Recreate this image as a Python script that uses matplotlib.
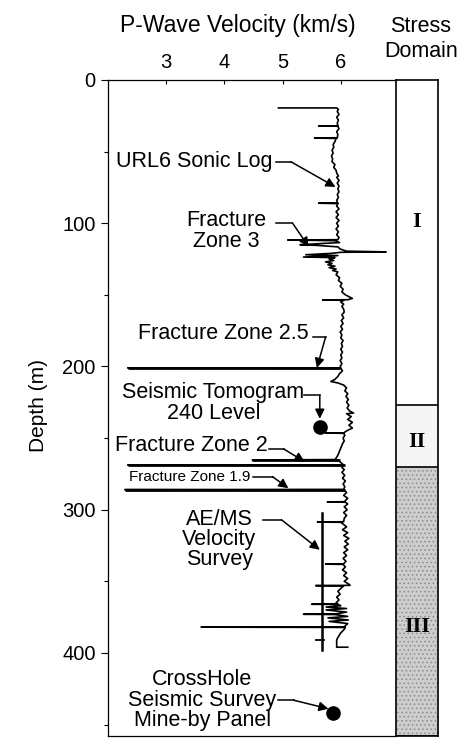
import matplotlib.pyplot as plt

plt.rcParams['font.family'] = ['Liberation Sans', 'DejaVu Sans']
plt.rcParams['hatch.linewidth'] = 0.6

# URL6 sonic log: depth (m) and P-wave velocity (km/s), top to bottom
log_depth = [19.5, 19.5, 20.5, 22, 24, 26, 28, 30, 32, 32, 32.3, 34, 36, 38, 40.5, 40.5, 40.8,
             43, 45, 47, 49, 51, 53, 55, 57, 59, 61, 63, 65, 67, 68, 70, 72, 74, 76, 78, 80,
             82, 84, 86, 86, 86.3, 88, 90, 92, 94, 96, 98, 100, 102, 104, 106, 108, 110,
             111.5, 111.7, 112.2, 113.5, 115, 115.5, 116.5, 118, 119.5, 120, 120.3, 121, 122,
             122.6, 123.6, 124, 125, 126, 127, 128, 129, 130, 131, 132, 133, 134, 136, 138,
             140, 142, 144, 146, 148, 150, 151.5, 152.5, 153.4, 153.6, 153.8, 155, 156.5, 158,
             160, 162, 164, 166, 168, 170, 172, 174, 176, 178, 180, 182, 184, 186, 188, 190,
             192, 194, 196, 198, 200, 201, 201, 201.3, 203, 205, 207, 209, 210.5, 211.5, 213,
             215, 217, 219, 221, 223, 225, 227, 229, 231, 232.5, 233, 235, 237, 239, 241, 243,
             245, 246.4, 246.4, 246.7, 248, 250, 252, 254, 256, 258, 260, 262, 264, 265, 265.3,
             265.6, 267, 268.8, 268.8, 269.1, 270.5, 272, 274, 276, 278, 280, 282, 284, 285.8,
             286, 286.3, 288, 290, 292, 294.4, 294.6, 294.8, 296, 298, 300, 302, 304, 306,
             308.4, 308.6, 308.8, 310, 312, 314, 316, 318, 320, 322, 324, 326, 328, 330, 332,
             334, 336, 337.8, 338, 338.2, 340, 342, 344, 346, 348, 350, 352, 352.8, 353, 353.2,
             355, 357, 359, 361, 363, 365, 365.8, 366, 366.2, 367, 368, 369, 370, 371.5, 372.8,
             373, 373.2, 374.5, 375.5, 377, 378, 379.5, 381, 381.8, 382, 382.2, 384, 386, 388,
             390, 391, 396, 396]
log_vel = [4.93, 5.93, 5.96, 5.94, 5.97, 5.93, 5.96, 5.94, 5.95, 5.62, 5.95, 5.97, 5.93, 5.95,
           5.94, 5.55, 5.92, 5.90, 5.87, 5.88, 5.85, 5.87, 5.84, 5.86, 5.85, 5.90, 5.88, 5.92,
           5.93, 5.96, 5.93, 5.97, 5.94, 5.97, 5.95, 5.97, 5.94, 5.96, 5.93, 5.95, 5.62, 5.95,
           5.93, 5.97, 5.92, 5.96, 5.92, 5.97, 5.93, 5.96, 5.92, 5.96, 5.93, 5.97,
           5.95, 5.09, 5.90, 5.98, 5.30, 5.60, 5.95, 5.99, 6.10, 6.78, 6.00, 5.85, 5.40,
           5.95, 5.36, 5.90, 5.80, 5.88, 5.74, 5.85, 5.78, 5.90, 5.80, 5.92, 5.86, 5.95, 5.92,
           5.98, 5.96, 6.02, 5.99, 6.04, 6.02, 6.08, 6.15, 6.20, 6.12, 5.69, 6.05, 6.00, 6.05,
           6.02, 6.05, 6.06, 6.02, 6.05, 6.01, 6.04, 6.00, 6.03, 5.99, 6.02, 6.00, 6.04, 6.01,
           6.03, 6.00, 6.03, 6.00, 6.02, 5.99, 6.02, 5.99, 6.00, 2.34, 6.00, 6.03, 5.98, 5.95,
           5.90, 5.83, 5.95, 6.05, 6.10, 6.07, 6.12, 6.09, 6.13, 6.10, 6.14, 6.11, 6.15, 6.22,
           6.10, 6.18, 6.12, 6.20, 6.14, 6.20, 6.10, 6.05, 5.74, 6.05, 6.07, 6.04, 6.06, 6.03,
           6.01, 5.99, 5.97, 5.95, 5.92, 5.90, 4.48, 5.95, 6.00, 6.05, 2.34, 6.05, 6.02, 6.06,
           6.02, 6.07, 6.03, 6.08, 6.04, 6.07, 6.05, 2.29, 6.06, 6.10, 6.05, 6.12, 6.06, 5.77,
           6.08, 6.12, 6.06, 6.11, 6.05, 6.10, 6.06, 6.05, 5.60, 6.00, 6.04, 6.10, 6.03, 6.12,
           6.05, 6.14, 6.07, 6.13, 6.06, 6.12, 6.05, 6.10, 6.04, 6.09, 6.05, 5.74, 6.04, 6.08,
           6.03, 6.10, 6.05, 6.12, 6.06, 6.14, 6.16, 5.57, 6.05, 6.00, 5.95, 5.99, 5.93, 5.97,
           5.92, 5.95, 5.50, 5.95, 6.00, 5.75, 6.10, 5.75, 6.10, 5.90, 5.36, 5.90, 6.12, 5.78,
           6.13, 5.80, 6.12, 6.08, 6.05, 3.60, 6.08, 6.05, 6.00, 5.97, 5.94, 5.93, 5.93, 6.12]

# fracture zones cut by the hole (depth, low and high velocity of the spike)
fz_depth = [201, 265.3, 268.8, 286]
fz_lo = [2.34, 4.48, 2.34, 2.29]
fz_hi = [5.98, 5.98, 6.07, 6.07]

# AE/MS velocity survey
aems_depth = [302, 398]
aems_vel = [5.67, 5.67]
aems_tick_depth = 391
aems_tick_vel = [5.57, 5.72]

# single-value surveys
tomo_depth, tomo_vel = 242, 5.64
xhole_depth, xhole_vel = 442, 5.86

# stress domains
domain_names = ['I', 'II', 'III']
domain_top = [0, 227, 270]
domain_bot = [227, 270, 458]
domain_label_depth = [99, 253, 382]
domain_colors = ['white', '#f5f5f5', '#cdcdcd']
domain_hatch = [None, None, '....']

fig = plt.figure(figsize=(4.71, 7.38), dpi=100)
ax = fig.add_axes([0.2293, 0.0027, 0.6115, 0.8889])
sx = fig.add_axes([0.8408, 0.0027, 0.0892, 0.8889])

ax.plot(log_vel, log_depth, color='black', lw=1.2)
ax.hlines(fz_depth, fz_lo, fz_hi, color='black', lw=2.0)
ax.plot(aems_vel, aems_depth, color='black', lw=1.8)
ax.plot(aems_tick_vel, [aems_tick_depth] * 2, color='black', lw=1.3)
ax.plot([tomo_vel], [tomo_depth], 'o', color='black', ms=9.5)
ax.plot([xhole_vel], [xhole_depth], 'o', color='black', ms=9.5)

ax.set_xlim(2, 6.95)
ax.set_ylim(458, 0)
ax.xaxis.tick_top()
ax.set_xticks([3, 4, 5, 6])
ax.set_yticks([0, 100, 200, 300, 400])
ax.set_yticks([50, 150, 250, 350, 450], minor=True)
ax.tick_params(axis='x', direction='in', length=3, width=0.8, pad=6, labelsize=14.5)
ax.tick_params(axis='y', direction='out', length=5, width=0.8, pad=4, labelsize=14.5)
ax.tick_params(axis='y', which='minor', direction='out', length=3, width=0.8)
ax.spines['right'].set_visible(False)
for s in ['left', 'top', 'bottom']:
    ax.spines[s].set_linewidth(0.9)

arrow = dict(arrowstyle='-|>', color='black', lw=1.1, mutation_scale=14,
             shrinkA=0, shrinkB=0)
fs = 15.5


def note(text, xy, ha, elbow_from, elbow_to, tip, size=fs):
    ax.text(xy[0], xy[1], text, ha=ha, va='center', fontsize=size,
            multialignment='center', linespacing=0.95)
    ax.plot([elbow_from[0], elbow_to[0]], [elbow_from[1], elbow_to[1]], color='black', lw=1.1)
    ax.annotate('', xy=tip, xytext=elbow_to, arrowprops=arrow)


note('URL6 Sonic Log', (4.83, 57.2), 'right', (4.88, 57), (5.14, 57), (5.91, 74.7))
note('Fracture\nZone 3', (4.03, 105.4), 'center', (4.88, 99.8), (5.17, 99.8), (5.45, 116.5))
note('Fracture Zone 2.5', (5.45, 177.3), 'right', (5.52, 179.4), (5.74, 179.4), (5.59, 201))
note('Seismic Tomogram\n240 Level', (3.81, 225.5), 'center', (5.36, 220), (5.64, 220),
     (5.64, 236.5))
note('Fracture Zone 2', (4.74, 255.5), 'right', (4.76, 257.6), (5.02, 257.6), (5.38, 266.5))
note('Fracture Zone 1.9', (4.45, 277), 'right', (4.50, 277), (4.83, 277), (5.10, 285),
     size=11)
note('AE/MS\nVelocity\nSurvey', (3.91, 321), 'center', (4.67, 307), (4.98, 307), (5.64, 328))
note('CrossHole\nSeismic Survey\nMine-by Panel', (3.62, 433), 'center', (4.93, 433),
     (5.19, 433), (5.79, 439))

# stress domain column
for name, top, bot, mid, col, hat in zip(domain_names, domain_top, domain_bot,
                                         domain_label_depth, domain_colors, domain_hatch):
    sx.axhspan(top, bot, facecolor=col, edgecolor='#8c8c8c', hatch=hat, lw=0)
    sx.axhline(bot, color='black', lw=1.2)
    sx.text(0.5, mid, name, ha='center', va='center', fontsize=16,
            fontweight='bold', family='Liberation Serif')
sx.set_xlim(0, 1)
sx.set_ylim(458, 0)
sx.set_xticks([])
sx.set_yticks([])
for s in sx.spines.values():
    s.set_linewidth(1.2)

fig.text(238 / 471, 1 - 32 / 738, 'P-Wave Velocity (km/s)', ha='center', va='baseline',
         fontsize=16.5)
fig.text(421 / 471, 1 - 32 / 738, 'Stress', ha='center', va='baseline', fontsize=15.5)
fig.text(421 / 471, 1 - 57 / 738, 'Domain', ha='center', va='baseline', fontsize=15.5)
fig.text(38 / 471, 1 - 405 / 738, 'Depth (m)', ha='center', va='center', rotation=90,
         fontsize=15)

fig.savefig('out.png', dpi=100)
